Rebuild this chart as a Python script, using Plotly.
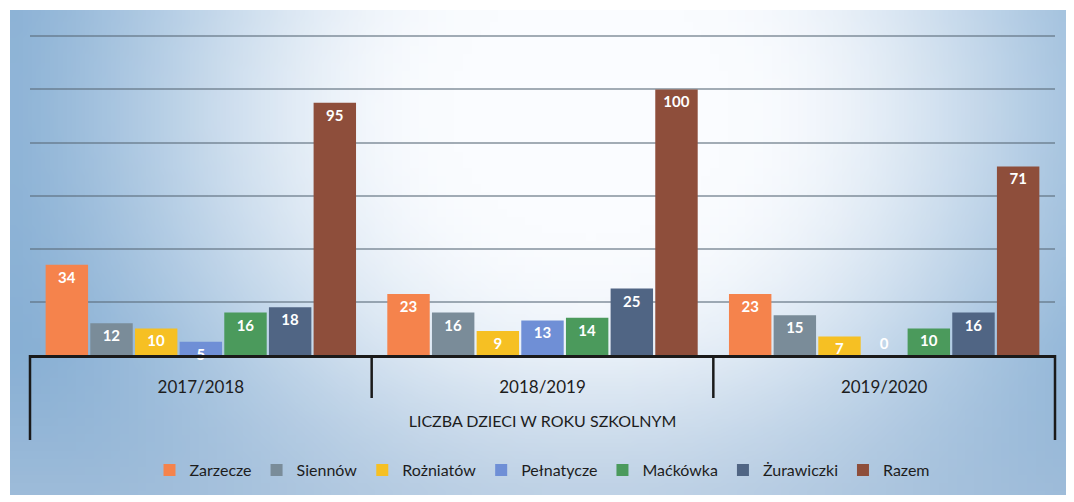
import base64
import struct
import zlib

import plotly.graph_objects as go

# ---------------- data ----------------
years = ["2017/2018", "2018/2019", "2019/2020"]
series_names = ["Zarzecze", "Siennów", "Rożniatów", "Pełnatycze", "Maćkówka", "Żurawiczki", "Razem"]
zarzecze = [34, 23, 23]
siennow = [12, 16, 15]
rozniatow = [10, 9, 7]
pelnatycze = [5, 13, 0]
mackowka = [16, 14, 10]
zurawiczki = [18, 25, 16]
razem = [95, 100, 71]
axis_title = "LICZBA DZIECI W ROKU SZKOLNYM"

series_values = [zarzecze, siennow, rozniatow, pelnatycze, mackowka, zurawiczki, razem]
colors = ["#f5834c", "#7a8c99", "#f6c023", "#6f8fd6", "#4b9a5c", "#506584", "#8e4e3b"]


# ------------- sky-like background image (generated) -------------
def make_png(w, h, fn):
    raw = b""
    for j in range(h):
        row = bytearray([0])
        for i in range(w):
            row.extend(fn(i / (w - 1), j / (h - 1)))
        raw += bytes(row)

    def chunk(tag, data):
        c = struct.pack(">I", len(data)) + tag + data
        return c + struct.pack(">I", zlib.crc32(tag + data) & 0xFFFFFFFF)

    png = b"\x89PNG\r\n\x1a\n"
    png += chunk(b"IHDR", struct.pack(">IIBBBBB", w, h, 8, 2, 0, 0, 0))
    png += chunk(b"IDAT", zlib.compress(raw, 9))
    png += chunk(b"IEND", b"")
    return "data:image/png;base64," + base64.b64encode(png).decode()


def sky(u, v):
    t = (((u - 0.55) / 0.55) ** 2 + ((v - 0.2) / 1.1) ** 2) ** 0.5
    a, b = 0.25, 1.15
    s = min(max((t - a) / (b - a), 0.0), 1.0)
    s = s * s * (3 - 2 * s)
    white = (250, 252, 255)
    blue = (135, 175, 212)
    c = [white[k] * (1 - s) + blue[k] * s for k in range(3)]
    g = max(0.0, (v - 0.7) / 0.3) * 0.35
    haze = (200, 212, 228)
    return [int(c[k] * (1 - g) + haze[k] * g) for k in range(3)]


bg_uri = make_png(120, 60, sky)

# ---------------- figure ----------------
OFF = 8  # page body margin
W, H = 1074, 502
Y_MAX = 122
BASE = 355                      # screen row of the baseline
PPU = (355 - 36) / 120          # pixels per unit
ph = round(Y_MAX * PPU)
TOP = BASE - ph
L, T = 30 - OFF, TOP - OFF
R = W - (1055 - OFF)
B = H - T - ph
pw = W - L - R


def py(y):
    """screen pixel row -> paper y"""
    return (BASE - y) / ph


def px(x):
    return (x - 30) / pw


fig = go.Figure()
for name, vals, col in zip(series_names, series_values, colors):
    fig.add_trace(
        go.Bar(
            name=name,
            x=years,
            y=vals,
            marker=dict(color=col, line=dict(width=0)),
            text=[str(v) for v in vals],
            textposition=["inside" if v > 0 else "outside" for v in vals],
            insidetextanchor="end",
            textangle=0,
            constraintext="none",
            textfont=dict(color="white", size=15, family="Lato", weight="bold"),
            outsidetextfont=dict(color="white", size=15, family="Lato", weight="bold"),
            cliponaxis=False,
        )
    )

fig.update_layout(
    width=W,
    height=H,
    margin=dict(l=L, r=R, t=T, b=B),
    paper_bgcolor="white",
    plot_bgcolor="rgba(0,0,0,0)",
    barmode="group",
    bargap=0.085,
    bargroupgap=0.05,
    font=dict(family="Lato", color="#1d1d1d"),
    showlegend=True,
    legend=dict(
        orientation="h",
        x=0.5,
        xanchor="center",
        y=py(470),
        yanchor="middle",
        font=dict(size=16, color="#1d1d1d"),
        itemwidth=30,
        bgcolor="rgba(0,0,0,0)",
        traceorder="normal",
    ),
    xaxis=dict(
        type="category",
        showline=True,
        linecolor="#1a1a1a",
        linewidth=2.5,
        ticks="outside",
        ticklen=15,
        tickcolor="rgba(0,0,0,0)",
        tickfont=dict(size=17, color="#1d1d1d"),
        showgrid=False,
        title=dict(text=axis_title, font=dict(size=16, color="#1d1d1d"), standoff=20),
        automargin=False,
    ),
    yaxis=dict(
        range=[0, Y_MAX],
        tick0=0,
        dtick=20,
        showticklabels=False,
        showgrid=True,
        gridcolor="rgba(90,105,120,0.55)",
        gridwidth=1.5,
        zeroline=False,
        showline=False,
        automargin=False,
    ),
    images=[
        dict(
            source=bg_uri,
            xref="paper",
            yref="paper",
            x=px(10),
            y=py(10),
            sizex=(1066 - 10) / pw,
            sizey=(495 - 10) / ph,
            sizing="stretch",
            xanchor="left",
            yanchor="top",
            layer="below",
        )
    ],
)

# category box lines below the axis
for xp in (0, 1):
    fig.add_shape(type="line", xref="paper", yref="paper", x0=xp, x1=xp, y0=0, y1=py(440),
                  line=dict(color="#1a1a1a", width=2.5))
for xd in (0.5, 1.5):
    fig.add_shape(type="line", xref="x", yref="paper", x0=xd, x1=xd, y0=0, y1=py(398),
                  line=dict(color="#1a1a1a", width=2.5))

fig.write_html("out.html")
